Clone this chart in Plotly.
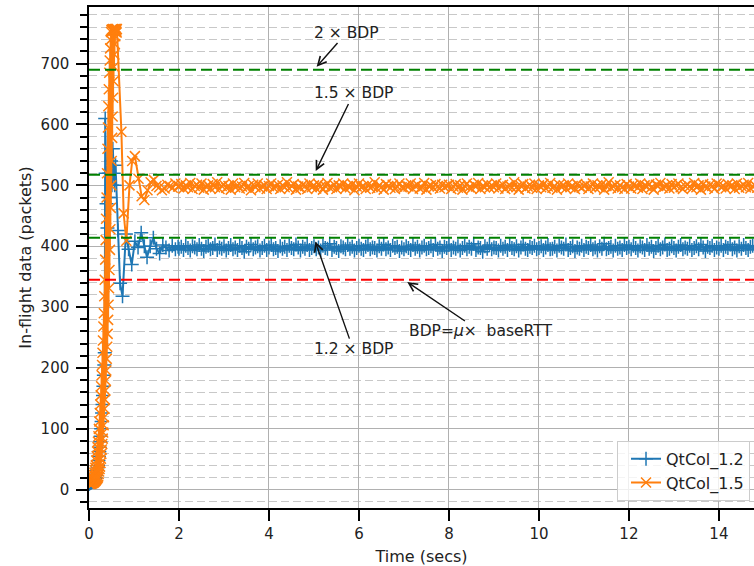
import plotly.graph_objects as go

# ---------------- data ----------------
# fine sampling grid of the slow-start ramp (every 5 ms, 0.000 .. 0.620 s)
ramp_t = [round(0.005 * i, 3) for i in range(125)]

# QtCol_1.5 ramp values on ramp_t (samples swing across the thick ramp band)
orange_ramp_v = [
    12, 10, 13, 10, 13, 10, 14, 10, 14, 10,
    15, 10, 16, 11, 17, 11, 18, 11, 19, 12,
    20, 12, 24, 13, 28, 14, 32, 14, 36, 15,
    40, 16, 48, 17, 55, 18, 63, 19, 70, 20,
    79, 22, 88, 26, 100, 30, 112, 34, 126, 38,
    140, 44, 155, 51, 170, 59, 188, 66, 205, 75,
    225, 84, 245, 94, 268, 106, 290, 119, 318, 133,
    345, 148, 378, 163, 410, 179, 445, 196, 480, 215,
    520, 235, 560, 256, 595, 279, 630, 304, 658, 331,
    685, 361, 705, 394, 725, 428, 739, 463, 752, 500,
    755, 540, 756, 578, 754, 613, 757, 644, 755, 671,
    756, 695, 754, 715, 757, 732, 755, 745, 756, 752,
    757, 753, 756, 751, 757]
# QtCol_1.5 transient after the peak
orange_tail_t = [0.72, 0.77, 0.83, 0.90, 0.96, 1.02, 1.10, 1.17,
                 1.23, 1.30, 1.37, 1.44, 1.50, 1.56, 1.62, 1.68, 1.74, 1.80,
                 1.86, 1.92, 1.98]
orange_tail_v = [588, 454, 409, 500, 540, 548, 511, 482,
                 476, 492, 505, 509, 499, 497, 492, 495, 501, 499,
                 496, 503, 498]

# QtCol_1.2 ramp (every 10 ms, 0.00 .. 0.35 s) and transient
blue_ramp_t = [0.00, 0.01, 0.02, 0.03, 0.04, 0.05, 0.06, 0.07, 0.08, 0.09,
               0.10, 0.11, 0.12, 0.13, 0.14, 0.15, 0.16, 0.17, 0.18, 0.19,
               0.20, 0.21, 0.22, 0.23, 0.24, 0.25, 0.26, 0.27, 0.28, 0.29,
               0.30, 0.31, 0.32, 0.33, 0.34, 0.35]
blue_ramp_v = [10, 10, 11, 11, 12, 12, 13, 13, 14, 14,
               15, 16, 17, 18, 19, 20, 24, 28, 32, 36,
               40, 48, 55, 63, 70, 79, 88, 100, 112, 126,
               140, 155, 170, 188, 205, 225]
blue_tail_t = [0.36, 0.37, 0.39, 0.41, 0.43, 0.45, 0.47, 0.49, 0.51, 0.53,
               0.55, 0.57, 0.59, 0.64, 0.69, 0.745, 0.82, 0.88, 0.95, 1.02,
               1.09, 1.16, 1.23, 1.29, 1.36, 1.43, 1.50, 1.57, 1.64, 1.71,
               1.78, 1.85, 1.92, 1.98]
blue_tail_v = [610, 520, 470, 430, 480, 520, 480, 540, 500, 560,
               520, 500, 533, 426, 339, 318, 420, 395, 370, 408,
               398, 422, 400, 382, 400, 414, 396, 388, 402, 398,
               393, 401, 395, 399]

# steady state, sampled every 0.05 s from t = 2.00 s
steady_t = [round(2.0 + 0.05 * i, 2) for i in range(260)]
blue_steady_v = [
    396, 399, 394, 401, 397, 393, 400, 398, 395, 402, 396, 392, 399, 401, 395, 397, 403, 394, 398, 396,
    400, 393, 397, 402, 395, 398, 394, 401, 397, 391, 399, 396, 403, 395, 398, 400, 393, 397, 401, 394,
    398, 402, 395, 397, 392, 400, 396, 399, 394, 401, 397, 395, 403, 398, 393, 399, 396, 402, 394, 397,
    400, 395, 398, 393, 401, 397, 396, 404, 394, 399, 397, 392, 400, 398, 395, 402, 396, 399, 393, 397,
    401, 396, 394, 399, 402, 395, 398, 397, 393, 400, 396, 403, 395, 398, 394, 401, 397, 399, 392, 398,
    395, 400, 397, 394, 402, 396, 399, 393, 398, 401, 395, 397, 400, 394, 403, 396, 398, 392, 399, 397,
    402, 394, 398, 396, 400, 393, 397, 401, 395, 399, 396, 404, 394, 398, 397, 391, 400, 396, 402, 395,
    398, 397, 393, 401, 396, 399, 394, 402, 397, 395, 400, 393, 398, 403, 396, 394, 399, 397, 401, 395,
    397, 400, 394, 398, 402, 395, 396, 399, 393, 401, 398, 396, 403, 394, 397, 400, 392, 398, 396, 401,
    394, 399, 397, 402, 395, 398, 393, 400, 396, 404, 395, 397, 399, 393, 401, 396, 398, 394, 402, 397,
    399, 395, 401, 397, 393, 400, 398, 394, 402, 396, 399, 392, 397, 401, 395, 398, 403, 394, 396, 400,
    397, 393, 399, 402, 395, 398, 396, 401, 394, 397, 400, 395, 403, 398, 392, 399, 397, 401, 394, 398,
    396, 401, 394, 399, 397, 403, 395, 398, 393, 400, 396, 402, 397, 394, 399, 401, 395, 398, 396, 400]
orange_steady_v = [
    498, 502, 495, 500, 497, 504, 494, 499, 501, 496, 503, 493, 498, 500, 495, 502, 497, 505, 494, 499,
    501, 496, 499, 493, 503, 497, 500, 495, 498, 504, 496, 499, 492, 501, 497, 503, 495, 498, 500, 494,
    499, 503, 496, 498, 501, 494, 500, 497, 505, 495, 499, 502, 493, 498, 496, 501, 499, 494, 503, 497,
    500, 495, 502, 498, 493, 499, 504, 496, 497, 501, 494, 500, 498, 503, 495, 499, 497, 502, 492, 498,
    503, 497, 499, 494, 501, 496, 498, 505, 495, 500, 497, 493, 502, 499, 496, 501, 494, 498, 503, 497,
    496, 500, 498, 503, 494, 499, 501, 495, 497, 504, 493, 499, 500, 496, 502, 498, 495, 501, 497, 499,
    501, 494, 498, 502, 496, 500, 493, 499, 503, 497, 495, 501, 498, 504, 494, 499, 497, 502, 496, 500,
    497, 503, 495, 499, 501, 494, 498, 500, 496, 505, 497, 493, 499, 502, 495, 498, 501, 496, 503, 494,
    500, 497, 502, 495, 498, 504, 496, 499, 493, 501, 498, 500, 495, 503, 497, 499, 494, 502, 498, 496,
    499, 501, 494, 498, 503, 496, 500, 497, 502, 493, 499, 505, 496, 498, 501, 495, 500, 497, 494, 502,
    498, 495, 501, 499, 496, 503, 494, 500, 498, 502, 497, 493, 501, 499, 504, 496, 498, 500, 495, 502,
    496, 500, 503, 497, 494, 499, 501, 498, 495, 504, 497, 500, 493, 502, 498, 496, 501, 499, 494, 503,
    501, 497, 499, 495, 502, 498, 500, 494, 503, 496, 499, 501, 497, 504, 495, 498, 500, 496, 502, 497]

series_names = ["QtCol_1.2", "QtCol_1.5"]
bdp = 345
bdp_multipliers = [1.2, 1.5, 2.0]
x_ticks = [0, 2, 4, 6, 8, 10, 12, 14]
y_ticks = [0, 100, 200, 300, 400, 500, 600, 700]

# assemble full series
blue_t = blue_ramp_t + blue_tail_t + steady_t
blue_v = blue_ramp_v + blue_tail_v + blue_steady_v
orange_t = ramp_t + orange_tail_t + steady_t
orange_v = orange_ramp_v + orange_tail_v + orange_steady_v

# ---------------- figure ----------------
FONT = "DejaVu Sans"
BLUE = "#1f77b4"
ORANGE = "#ff7f0e"
TXT = "#222222"

fig = go.Figure()
fig.add_trace(go.Scatter(
    x=blue_t, y=blue_v, mode="lines+markers", name=series_names[0],
    line=dict(color=BLUE, width=2),
    marker=dict(symbol="cross-thin", size=10, color=BLUE, line=dict(color=BLUE, width=1.5)),
))
fig.add_trace(go.Scatter(
    x=orange_t, y=orange_v, mode="lines+markers", name=series_names[1],
    line=dict(color=ORANGE, width=2),
    marker=dict(symbol="x-thin", size=10, color=ORANGE, line=dict(color=ORANGE, width=1.5)),
))

# reference lines
ref_values = [bdp] + [bdp * m for m in bdp_multipliers]
ref_colors = ["#ff0000", "#008000", "#008000", "#008000"]
for val, col in zip(ref_values, ref_colors):
    fig.add_shape(type="line", xref="paper", x0=0, x1=1, yref="y", y0=val, y1=val,
                  line=dict(color=col, width=2, dash="11px,5px"), layer="above")

# annotations (text position, arrow target)
ann_texts = ["2 × BDP", "1.5 × BDP", "1.2 × BDP", "BDP=<i>μ</i>×\u00a0\u00a0baseRTT"]
ann_text_pos = [(5.73, 751), (5.88, 651), (5.87, 231), (8.70, 260)]
ann_targets = [(5.0, bdp * 2.0), (5.0, bdp * 1.5), (5.0, bdp * 1.2), (7.0, bdp)]
for txt, (tx, ty), (ax_, ay_) in zip(ann_texts, ann_text_pos, ann_targets):
    fig.add_annotation(x=ax_, y=ay_, ax=tx, ay=ty, axref="x", ayref="y", xref="x", yref="y",
                       text=txt, showarrow=True, arrowhead=5, arrowsize=1.2, arrowwidth=1.4,
                       arrowcolor="#111111", standoff=4,
                       font=dict(family=FONT, size=15.5, color=TXT))

axis_common = dict(
    showline=True, linecolor="black", linewidth=1.5,
    ticks="outside", ticklen=11, tickwidth=2, tickcolor="black",
    tickfont=dict(family=FONT, size=15, color=TXT),
    showgrid=True, gridcolor="#b0b0b0", gridwidth=1, zeroline=False,
)

fig.update_xaxes(
    **axis_common, range=[0, 14.78], tickmode="array", tickvals=x_ticks,
    mirror=True,
    title=dict(text="Time (secs)", font=dict(family=FONT, size=16, color=TXT), standoff=10),
)
fig.update_yaxes(
    **axis_common, range=[-30, 793], tickmode="array", tickvals=y_ticks,
    ticklabelstandoff=4,
    minor=dict(dtick=20, tick0=0, ticks="outside", ticklen=7, tickwidth=2, tickcolor="black",
               showgrid=True, gridcolor="#c8c8c8", gridwidth=1, griddash="8px,4px"),
    title=dict(text="In-flight data (packets)", font=dict(family=FONT, size=16, color=TXT), standoff=5),
)

fig.update_layout(
    width=754, height=566,
    margin=dict(l=89, r=0, t=7, b=58),
    plot_bgcolor="white", paper_bgcolor="white",
    font=dict(family=FONT, size=15, color=TXT),
    showlegend=True,
    legend=dict(x=0.794, y=0.134, xanchor="left", yanchor="top",
                bgcolor="rgba(255,255,255,0.8)", bordercolor="#cccccc", borderwidth=1,
                font=dict(family=FONT, size=16, color=TXT),
                indentation=8, tracegroupgap=0),
)

fig.write_html("out.html", config={"displayModeBar": False})
